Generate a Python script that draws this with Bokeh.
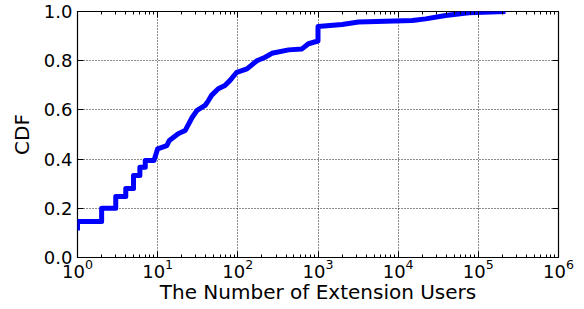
from bokeh.plotting import figure
from bokeh.models import LogAxis, LinearAxis, FixedTicker, LogTicker, PrintfTickFormatter, CustomJSTickFormatter
from bokeh.embed import file_html
from bokeh.resources import INLINE

# Data (vertices of the step-like line)
users = [1, 1, 2, 2, 3, 3, 4, 4, 5, 5, 6, 6, 7, 7, 9, 10, 13, 14, 18, 22,
         27, 31, 39, 43, 47, 57, 69, 80, 97, 130, 173, 219, 266, 430, 631,
         760, 1000, 1000, 2000, 3200, 15000, 22000, 39000, 76000, 218000]
cdf = [0.11, 0.146, 0.146, 0.2, 0.2, 0.248, 0.248, 0.28, 0.28, 0.333, 0.333,
       0.367, 0.367, 0.394, 0.394, 0.442, 0.455, 0.476, 0.503, 0.516,
       0.57, 0.598, 0.618, 0.638, 0.659, 0.686, 0.699, 0.72, 0.753, 0.767,
       0.80, 0.814, 0.83, 0.844, 0.848, 0.869, 0.88, 0.939, 0.947, 0.957,
       0.963, 0.97, 0.984, 0.995, 1.0]
y_ticks = [0.0, 0.2, 0.4, 0.6, 0.8, 1.0]
x_label = "The Number of Extension Users"
y_label = "CDF"

FONT = "DejaVu Sans"

p = figure(width=584, height=309, x_axis_type="log", x_range=(1, 1e6), y_range=(0, 1),
           output_backend="svg", toolbar_location=None,
           min_border_left=77, min_border_right=26, min_border_top=11, min_border_bottom=52)
p.background_fill_color = "white"
p.border_fill_color = "white"
p.outline_line_color = "black"
p.outline_line_width = 1.2

xticker = LogTicker(num_minor_ticks=10)
yticker = FixedTicker(ticks=y_ticks)

xa = p.xaxis[0]
xa.ticker = xticker
ya = p.yaxis[0]
ya.ticker = yticker
ya.formatter = PrintfTickFormatter(format="%.1f")

for ax in (xa, ya):
    ax.major_tick_in = 6
    ax.major_tick_out = 0
    ax.minor_tick_in = 3
    ax.minor_tick_out = 0
    ax.axis_line_color = None
    ax.major_tick_line_color = "black"
    ax.minor_tick_line_color = "black"
    ax.major_label_text_font = FONT
    ax.major_label_text_font_size = "18px"
    ax.major_label_text_color = "black"
    ax.axis_label_text_font = FONT
    ax.axis_label_text_font_size = "20px"
    ax.axis_label_text_font_style = "normal"
    ax.axis_label_text_color = "black"

ya.minor_tick_line_color = None
xa.axis_label = x_label
ya.axis_label = y_label
xa.major_label_standoff = 1
xa.axis_label_standoff = -1
ya.major_label_standoff = 5
ya.axis_label_standoff = 7

# Top and right axes: inward ticks only, no labels
top = LogAxis(ticker=xticker, formatter=CustomJSTickFormatter(code="return ''"))
right = LinearAxis(ticker=yticker, formatter=CustomJSTickFormatter(code="return ''"))
for ax in (top, right):
    ax.major_tick_in = 6
    ax.major_tick_out = 0
    ax.minor_tick_in = 3
    ax.minor_tick_out = 0
    ax.axis_line_color = None
    ax.major_label_text_font_size = "0px"
    ax.major_label_standoff = 0
    ax.major_tick_line_color = "black"
    ax.minor_tick_line_color = "black"
right.minor_tick_line_color = None
p.add_layout(top, "above")
p.add_layout(right, "right")

for g in (p.xgrid[0], p.ygrid[0]):
    g.grid_line_color = "black"
    g.grid_line_dash = "1 2"
    g.grid_line_width = 1
    g.grid_line_alpha = 0.9
p.xgrid[0].ticker = xticker
p.ygrid[0].ticker = yticker

p.line(users, cdf, line_width=5, line_color="#0000ff", line_join="round")

open("out.html", "w").write(file_html(p, INLINE))
